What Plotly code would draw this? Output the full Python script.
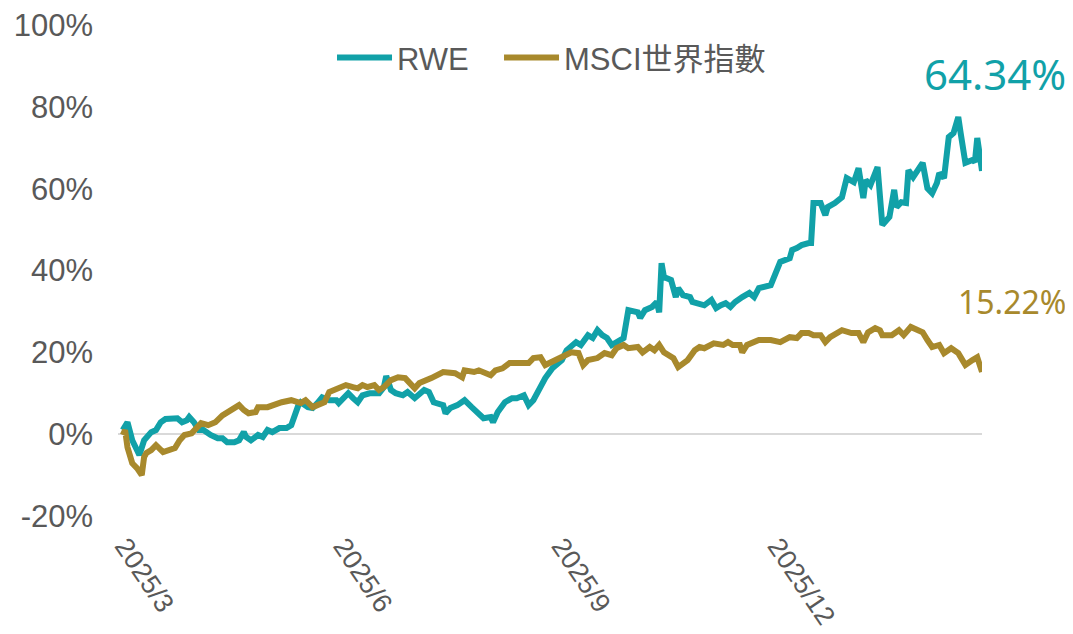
import plotly.graph_objects as go

rwe_dates = [
    "2025-03-03", "2025-03-05", "2025-03-07", "2025-03-09", "2025-03-10", "2025-03-12", "2025-03-13", "2025-03-15",
    "2025-03-17", "2025-03-19", "2025-03-21", "2025-03-24", "2025-03-26", "2025-03-28", "2025-03-30", "2025-03-31",
    "2025-04-02", "2025-04-04", "2025-04-06", "2025-04-09", "2025-04-12", "2025-04-14", "2025-04-16", "2025-04-19",
    "2025-04-21", "2025-04-23", "2025-04-24", "2025-04-26", "2025-04-29", "2025-05-01", "2025-05-03", "2025-05-05",
    "2025-05-08", "2025-05-11", "2025-05-13", "2025-05-16", "2025-05-17", "2025-05-20", "2025-05-22", "2025-05-24",
    "2025-05-26", "2025-05-29", "2025-06-01", "2025-06-02", "2025-06-06", "2025-06-08", "2025-06-10", "2025-06-12",
    "2025-06-15", "2025-06-19", "2025-06-21", "2025-06-22", "2025-06-24", "2025-06-26", "2025-06-29", "2025-07-01",
    "2025-07-04", "2025-07-08", "2025-07-10", "2025-07-12", "2025-07-16", "2025-07-17", "2025-07-19", "2025-07-22",
    "2025-07-25", "2025-07-28", "2025-08-01", "2025-08-02", "2025-08-05", "2025-08-06", "2025-08-08", "2025-08-11",
    "2025-08-14", "2025-08-16", "2025-08-19", "2025-08-21", "2025-08-23", "2025-08-26", "2025-08-28", "2025-08-31",
    "2025-09-04", "2025-09-06", "2025-09-10", "2025-09-12", "2025-09-15", "2025-09-17", "2025-09-19", "2025-09-21",
    "2025-09-23", "2025-09-25", "2025-09-28", "2025-09-30", "2025-10-02", "2025-10-06", "2025-10-07", "2025-10-09",
    "2025-10-12", "2025-10-14", "2025-10-15", "2025-10-16", "2025-10-17", "2025-10-20", "2025-10-22", "2025-10-23",
    "2025-10-25", "2025-10-28", "2025-10-29", "2025-10-31", "2025-11-03", "2025-11-06", "2025-11-08", "2025-11-10",
    "2025-11-12", "2025-11-14", "2025-11-16", "2025-11-19", "2025-11-22", "2025-11-24", "2025-11-26", "2025-12-01",
    "2025-12-05", "2025-12-09", "2025-12-10", "2025-12-12", "2025-12-14", "2025-12-17", "2025-12-18", "2025-12-19",
    "2025-12-22", "2025-12-24", "2025-12-25", "2025-12-28", "2025-12-31", "2026-01-02", "2026-01-05", "2026-01-07",
    "2026-01-09", "2026-01-10", "2026-01-12", "2026-01-15", "2026-01-17", "2026-01-20", "2026-01-22", "2026-01-23",
    "2026-01-25", "2026-01-27", "2026-01-28", "2026-01-30", "2026-02-01", "2026-02-03", "2026-02-05", "2026-02-07",
    "2026-02-09", "2026-02-10", "2026-02-12", "2026-02-14", "2026-02-16", "2026-02-18", "2026-02-19", "2026-02-21",
    "2026-02-24", "2026-02-25", "2026-02-26", "2026-02-28",
]
rwe_values = [
    1.0, 2.9, -1.5, -3.9, -5.1, -1.5, -0.7, 0.5,
    1.0, 2.9, 3.7, 3.7, 3.9, 2.9, 3.4, 4.2,
    2.9, 1.0, 1.0, -0.2, -1.0, -1.0, -2.0, -2.0,
    -1.5, 0.5, -0.7, -1.5, -0.2, -0.7, 1.0, 0.5,
    1.5, 1.5, 2.2, 7.1, 7.8, 6.6, 6.4, 7.6,
    9.0, 8.3, 8.3, 7.6, 10.0, 8.8, 7.8, 9.5,
    10.0, 10.0, 11.5, 14.2, 10.8, 10.0, 9.5, 10.3,
    8.8, 10.8, 10.3, 7.8, 7.1, 5.1, 6.4, 7.1,
    8.3, 6.6, 4.6, 3.9, 4.2, 2.9, 5.4, 7.8,
    8.8, 8.8, 9.5, 7.1, 8.3, 11.5, 13.7, 16.1,
    18.1, 20.5, 22.5, 21.8, 24.2, 23.5, 25.4, 24.2,
    23.5, 21.8, 23.0, 23.5, 30.3, 29.8, 28.4, 30.3,
    31.1, 32.3, 29.8, 41.8, 38.4, 37.7, 33.5, 35.7,
    34.0, 33.5, 32.3, 32.0, 31.5, 32.8, 30.8, 31.5,
    32.0, 31.1, 32.3, 33.5, 34.5, 33.5, 35.7, 36.4,
    42.1, 43.0, 45.0, 45.5, 46.2, 46.7, 46.7, 56.5,
    56.5, 53.5, 55.5, 56.5, 57.9, 62.6, 61.6, 65.0,
    57.7, 62.1, 60.9, 65.3, 51.1, 53.1, 59.7, 55.5,
    56.7, 56.5, 64.5, 62.8, 64.5, 66.3, 60.1, 58.9,
    61.4, 63.8, 62.6, 72.6, 73.6, 77.5, 73.6, 66.3,
    67.0, 66.5, 72.4, 64.34,
]

msci_dates = [
    "2025-03-03", "2025-03-04", "2025-03-05", "2025-03-07", "2025-03-09", "2025-03-11", "2025-03-12", "2025-03-13",
    "2025-03-15", "2025-03-17", "2025-03-20", "2025-03-22", "2025-03-25", "2025-03-27", "2025-03-29", "2025-04-01",
    "2025-04-03", "2025-04-05", "2025-04-08", "2025-04-11", "2025-04-14", "2025-04-16", "2025-04-19", "2025-04-21",
    "2025-04-23", "2025-04-25", "2025-04-28", "2025-04-29", "2025-05-03", "2025-05-07", "2025-05-09", "2025-05-13",
    "2025-05-17", "2025-05-19", "2025-05-22", "2025-05-24", "2025-05-27", "2025-05-29", "2025-06-01", "2025-06-05",
    "2025-06-08", "2025-06-10", "2025-06-12", "2025-06-14", "2025-06-17", "2025-06-19", "2025-06-21", "2025-06-24",
    "2025-06-27", "2025-06-30", "2025-07-04", "2025-07-06", "2025-07-11", "2025-07-16", "2025-07-21", "2025-07-24",
    "2025-07-25", "2025-07-29", "2025-07-31", "2025-08-02", "2025-08-05", "2025-08-07", "2025-08-10", "2025-08-13",
    "2025-08-17", "2025-08-19", "2025-08-21", "2025-08-23", "2025-08-26", "2025-08-28", "2025-09-01", "2025-09-03",
    "2025-09-08", "2025-09-11", "2025-09-13", "2025-09-15", "2025-09-19", "2025-09-22", "2025-09-25", "2025-09-27",
    "2025-09-30", "2025-10-02", "2025-10-06", "2025-10-08", "2025-10-11", "2025-10-13", "2025-10-15", "2025-10-17",
    "2025-10-21", "2025-10-23", "2025-10-27", "2025-10-30", "2025-11-01", "2025-11-03", "2025-11-07", "2025-11-11",
    "2025-11-13", "2025-11-15", "2025-11-18", "2025-11-19", "2025-11-21", "2025-11-26", "2025-12-01", "2025-12-05",
    "2025-12-09", "2025-12-12", "2025-12-14", "2025-12-17", "2025-12-19", "2025-12-22", "2025-12-24", "2025-12-26",
    "2025-12-29", "2025-12-31", "2026-01-04", "2026-01-07", "2026-01-09", "2026-01-11", "2026-01-14", "2026-01-16",
    "2026-01-17", "2026-01-21", "2026-01-24", "2026-01-26", "2026-01-29", "2026-02-01", "2026-02-03", "2026-02-05",
    "2026-02-07", "2026-02-10", "2026-02-12", "2026-02-15", "2026-02-18", "2026-02-21", "2026-02-22", "2026-02-24",
    "2026-02-26", "2026-02-28",
]
msci_values = [
    -0.2, 1.0, -3.2, -7.1, -8.3, -10.0, -5.6, -4.6,
    -3.9, -2.7, -4.4, -3.9, -3.4, -1.5, -0.2, 0.2,
    1.7, 2.7, 2.2, 2.9, 4.6, 5.4, 6.6, 7.1,
    5.9, 5.1, 5.4, 6.6, 6.6, 7.6, 7.8, 8.3,
    7.6, 8.3, 6.6, 7.1, 7.8, 10.3, 11.0, 12.0,
    11.5, 11.2, 12.0, 11.5, 12.0, 10.8, 11.5, 13.2,
    13.9, 13.7, 11.2, 12.5, 13.7, 15.2, 14.9, 13.9,
    15.6, 15.2, 15.6, 15.2, 14.4, 15.6, 16.1, 17.4,
    17.4, 17.6, 17.4, 18.6, 18.8, 16.9, 18.1, 18.8,
    20.0, 19.8, 16.9, 18.1, 18.6, 19.8, 19.3, 21.0,
    21.8, 21.0, 21.3, 20.0, 21.3, 20.5, 21.8, 20.0,
    18.6, 16.4, 18.1, 20.5, 21.3, 21.0, 22.2, 21.8,
    22.5, 21.8, 21.8, 20.0, 21.8, 23.0, 23.0, 22.5,
    23.7, 23.5, 24.7, 24.7, 24.2, 24.2, 22.5, 23.7,
    24.7, 25.4, 24.7, 24.7, 22.5, 24.9, 25.9, 25.4,
    24.2, 24.2, 25.4, 24.2, 26.2, 25.4, 24.9, 23.0,
    21.3, 21.8, 19.8, 21.0, 19.8, 16.9, 17.4, 18.1,
    18.8, 15.22,
]

series_names = ["RWE", "MSCI世界指數"]
series_colors = ["#11A1A8", "#A8892C"]
tick_dates = ["2025-03-01", "2025-06-01", "2025-09-01", "2025-12-01"]
tick_labels = ["2025/3", "2025/6", "2025/9", "2025/12"]
y_ticks = [-20, 0, 20, 40, 60, 80, 100]
y_tick_labels = [f"{v}%" for v in y_ticks]

FONT = "Liberation Sans, Arial, Noto Sans CJK TC, sans-serif"
GRAY = "#595959"

fig = go.Figure()
fig.add_trace(go.Scatter(x=rwe_dates, y=rwe_values, mode="lines", name=series_names[0],
                         line=dict(color=series_colors[0], width=6), legend="legend"))
fig.add_trace(go.Scatter(x=msci_dates, y=msci_values, mode="lines", name=series_names[1],
                         line=dict(color=series_colors[1], width=6), legend="legend2"))

fig.add_annotation(x=rwe_dates[-1], y=rwe_values[-1], xref="x", yref="y",
                   text=f"{rwe_values[-1]:.2f}%", showarrow=False,
                   xanchor="right", yanchor="middle", xshift=86, yshift=97,
                   font=dict(family="Noto Sans, " + FONT, size=42, color=series_colors[0]))
fig.add_annotation(x=msci_dates[-1], y=msci_values[-1], xref="x", yref="y",
                   text=f"{msci_values[-1]:.2f}%", showarrow=False,
                   xanchor="right", yanchor="middle", xshift=86, yshift=70,
                   font=dict(family="Noto Sans, " + FONT, size=32, color=series_colors[1]))

legend_style = dict(orientation="h", xanchor="left", y=0.933, yanchor="middle",
                    font=dict(family=FONT, size=31, color=GRAY), bgcolor="rgba(0,0,0,0)",
                    itemwidth=55)

# page body has an 8px margin; size the figure so it fits the 1073x634 window
fig.update_layout(
    width=1065, height=626,
    margin=dict(l=110, r=91, t=17, b=118, autoexpand=False),
    paper_bgcolor="white", plot_bgcolor="white",
    font=dict(family=FONT, size=28, color=GRAY),
    showlegend=True,
    legend=dict(x=0.2477, **legend_style),
    legend2=dict(x=0.441, **legend_style),
    xaxis=dict(type="date", range=["2025-03-01", "2026-02-28"], automargin=False,
               tickvals=tick_dates, ticktext=tick_labels, tickangle=56,
               showgrid=False, zeroline=False, showline=False, ticks="",
               tickfont=dict(family=FONT, size=27, color=GRAY),
               ticklabelstandoff=8, ticklabelshift=7, ticklabeloverflow="allow"),
    yaxis=dict(range=[-20, 100], tickvals=y_ticks, ticktext=y_tick_labels, automargin=False,
               showgrid=False, zeroline=True, zerolinecolor="#D9D9D9", zerolinewidth=2,
               showline=False, ticks="", ticklabelstandoff=24, ticklabeloverflow="allow",
               tickfont=dict(family=FONT, size=31, color=GRAY)),
)

fig.write_html("out.html")
